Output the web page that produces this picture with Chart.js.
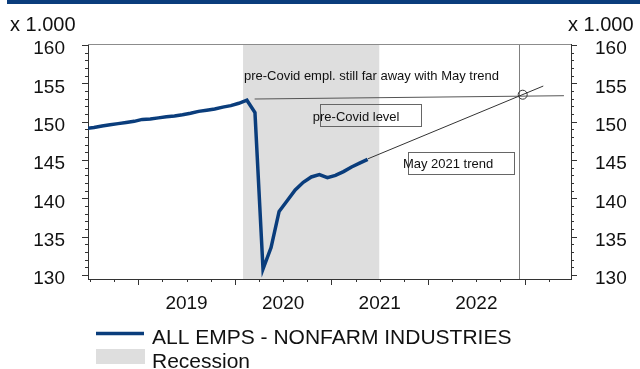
<!DOCTYPE html>
<html>
<head>
<meta charset="utf-8">
<script src="https://cdn.jsdelivr.net/npm/chart.js@4.4.0/dist/chart.umd.min.js"></script>
<style>
  html, body { margin: 0; padding: 0; background: #fff; }
  #wrap { width: 640px; height: 369px; position: relative; }
</style>
</head>
<body>
<div id="wrap"><canvas id="chart"></canvas></div>
<script>
// Nonfarm payrolls (x 1.000 thousands), monthly
const months = [
    '2018-06', '2018-07', '2018-08', '2018-09', '2018-10', '2018-11', '2018-12',
    '2019-01', '2019-02', '2019-03', '2019-04', '2019-05', '2019-06',
    '2019-07', '2019-08', '2019-09', '2019-10', '2019-11', '2019-12',
    '2020-01', '2020-02', '2020-03', '2020-04', '2020-05', '2020-06',
    '2020-07', '2020-08', '2020-09', '2020-10', '2020-11', '2020-12',
    '2021-01', '2021-02', '2021-03', '2021-04', '2021-05'
];
const payrolls = [
    149.1, 149.25, 149.45, 149.6, 149.75, 149.9, 150.05,
    150.3, 150.35, 150.5, 150.65, 150.75, 150.9,
    151.1, 151.35, 151.5, 151.65, 151.9, 152.1,
    152.4, 152.8, 151.2, 130.8, 133.6, 138.3,
    139.7, 141.1, 142.1, 142.8, 143.1, 142.7,
    143.0, 143.5, 144.1, 144.6, 145.1
];
const yearLabels = ['2019', '2020', '2021', '2022'];
const yTicks = [130, 135, 140, 145, 150, 155, 160];

// recession shading and annotations, in axis units (decimal year, payrolls)
const recessionStart = 2020.085;
const recessionEnd = 2021.495;
const preCovidLine = [[2020.205, 152.96], [2023.407, 153.39]];
const mayTrendLine = [[2021.379, 145.17], [2023.193, 154.65]];
const crossingPoint = [2022.98, 153.52];
const crossingX = 2022.94;
const notes = [
    { text: 'pre-Covid empl. still far away with May trend', x: 2020.094, y: 155.87 },
    { text: 'pre-Covid level', x: 2020.807, y: 150.57, box: [2020.879, 152.30, 2021.926, 149.47] },
    { text: 'May 2021 trend', x: 2021.74, y: 144.48, box: [2021.794, 146.08, 2022.889, 143.27] }
];

const NAVY = '#0a3d7c';
const BAND = '#dedede';
const FONT = '"Liberation Sans", Arial, sans-serif';

function toYear(m) {
    const [y, mo] = m.split('-').map(Number);
    return y + (mo - 0.5) / 12;
}

const chromePlugin = {
    id: 'chrome',
    beforeDraw(chart) {
        const c = chart.ctx;
        c.save();
        c.fillStyle = NAVY;
        c.fillRect(7, 0, 633, 4);
        c.restore();
    },
    beforeDatasetsDraw(chart) {
        const { ctx: c, chartArea: a, scales: { x } } = chart;
        c.save();
        c.fillStyle = BAND;
        const x0 = x.getPixelForValue(recessionStart);
        const x1 = x.getPixelForValue(recessionEnd);
        c.fillRect(x0, a.top, x1 - x0, a.bottom - a.top);
        // month of crossing
        c.strokeStyle = '#808080';
        c.lineWidth = 1;
        const vx = Math.round(x.getPixelForValue(crossingX)) + 0.5;
        c.beginPath();
        c.moveTo(vx, a.top);
        c.lineTo(vx, a.bottom);
        c.stroke();
        c.restore();
    },
    afterDatasetsDraw(chart) {
        const { ctx: c, chartArea: a, scales: { x, y } } = chart;
        const px = p => [x.getPixelForValue(p[0]), y.getPixelForValue(p[1])];
        c.save();

        // top frame line
        c.strokeStyle = '#8c8c8c';
        c.lineWidth = 1;
        c.beginPath();
        c.moveTo(a.left, a.top + 0.5);
        c.lineTo(a.right, a.top + 0.5);
        c.stroke();

        // pre-Covid level and May trend
        c.strokeStyle = '#555';
        c.beginPath();
        c.moveTo(...px(preCovidLine[0]));
        c.lineTo(...px(preCovidLine[1]));
        c.stroke();
        c.strokeStyle = '#333';
        c.beginPath();
        c.moveTo(...px(mayTrendLine[0]));
        c.lineTo(...px(mayTrendLine[1]));
        c.stroke();
        c.beginPath();
        c.arc(...px(crossingPoint), 4.5, 0, Math.PI * 2);
        c.stroke();

        // notes
        c.font = '13px ' + FONT;
        c.fillStyle = '#111';
        c.textBaseline = 'middle';
        notes.forEach(n => {
            if (n.box) {
                const [bx0, by0] = px([n.box[0], n.box[1]]);
                const [bx1, by1] = px([n.box[2], n.box[3]]);
                c.strokeStyle = '#666';
                c.strokeRect(Math.round(bx0) + 0.5, Math.round(by0) + 0.5, Math.round(bx1 - bx0), Math.round(by1 - by0));
            }
            const [tx, ty] = px([n.x, n.y]);
            c.fillText(n.text, tx, ty);
        });

        // tick marks
        c.strokeStyle = '#333';
        c.beginPath();
        for (let v = 130; v <= 160; v++) {
            const len = v % 5 === 0 ? 6 : 3;
            const ty = Math.round(y.getPixelForValue(v)) + 0.5;
            c.moveTo(a.left, ty);
            c.lineTo(a.left - len, ty);
            c.moveTo(a.right, ty);
            c.lineTo(a.right + len, ty);
        }
        for (let q = 2018.5; q <= 2023.25; q += 0.25) {
            const len = Number.isInteger(q) ? 6 : 3;
            const tx = Math.round(x.getPixelForValue(q)) + 0.5;
            c.moveTo(tx, a.bottom);
            c.lineTo(tx, a.bottom + len);
        }
        c.stroke();
        c.restore();
    },
    afterDraw(chart) {
        const c = chart.ctx;
        const ds = chart.data.datasets[0];
        c.save();
        c.fillStyle = '#111';
        c.font = '20px ' + FONT;
        c.textBaseline = 'alphabetic';
        c.fillText('x 1.000', 10, 31);
        c.fillText('x 1.000', 568, 31);

        // legend
        c.strokeStyle = ds.borderColor;
        c.lineWidth = 3.5;
        c.beginPath();
        c.moveTo(96, 333.5);
        c.lineTo(144, 333.5);
        c.stroke();
        c.fillStyle = BAND;
        c.fillRect(96, 349, 49, 15);
        c.fillStyle = '#111';
        c.font = '21px ' + FONT;
        c.fillText(ds.label, 152, 344);
        c.fillText('Recession', 152, 368);
        c.restore();
    }
};

const yAxis = (position) => ({
    type: 'linear',
    position: position,
    min: 129.5,
    max: 160.13,
    grid: { display: false },
    border: { display: true, color: '#333', width: 1 },
    afterBuildTicks: s => { s.ticks = yTicks.map(v => ({ value: v })); },
    afterFit: s => { s.width = position === 'left' ? 88 : 69; },
    ticks: {
        color: '#111',
        font: { family: FONT, size: 19 },
        padding: position === 'left' ? 15 : 16,
        labelOffset: 4
    }
});

new Chart(document.getElementById('chart'), {
    type: 'line',
    data: {
        datasets: [{
            label: 'ALL EMPS - NONFARM INDUSTRIES',
            data: months.map((m, i) => ({ x: toYear(m), y: payrolls[i] })),
            borderColor: NAVY,
            borderWidth: 3.5,
            pointRadius: 0,
            tension: 0,
            clip: 0,
            yAxisID: 'y'
        }]
    },
    options: {
        responsive: true,
        maintainAspectRatio: false,
        animation: false,
        events: [],
        layout: { padding: { top: 44, left: 0, right: 0, bottom: 0 } },
        plugins: { legend: { display: false }, tooltip: { enabled: false } },
        scales: {
            x: {
                type: 'linear',
                min: 2018.48,
                max: 2023.48,
                grid: { display: false },
                border: { display: true, color: '#333', width: 1 },
                afterBuildTicks: s => { s.ticks = yearLabels.map(l => ({ value: Number(l) + 0.5 })); },
                afterFit: s => { s.height = 90; },
                ticks: {
                    color: '#111',
                    font: { family: FONT, size: 19 },
                    padding: 5,
                    autoSkip: false,
                    maxRotation: 0,
                    callback: v => String(Math.floor(v))
                }
            },
            y: yAxis('left'),
            y2: yAxis('right')
        }
    },
    plugins: [chromePlugin]
});
</script>
</body>
</html>
